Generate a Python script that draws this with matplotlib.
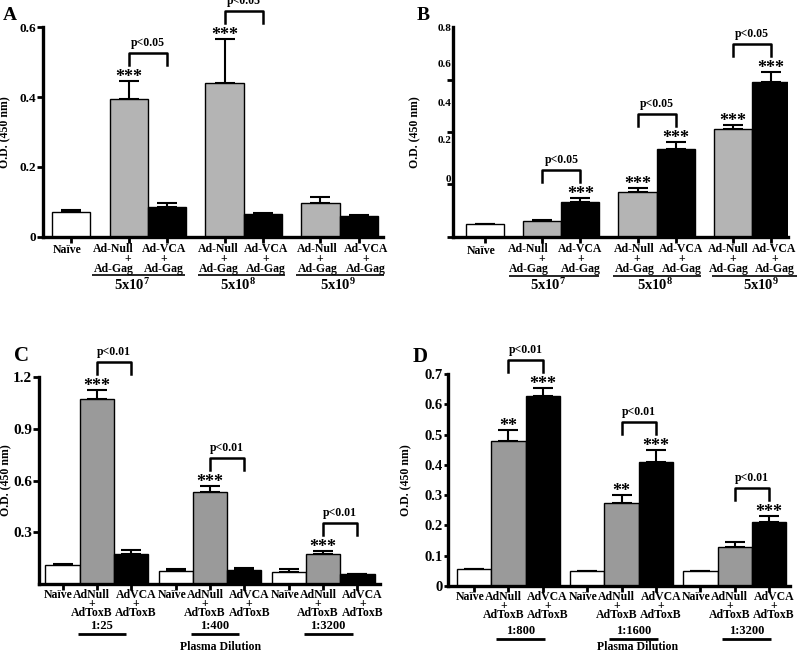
import matplotlib
matplotlib.use("Agg")
import matplotlib.pyplot as plt
import matplotlib.transforms as mtransforms

plt.rcParams["font.family"] = "Liberation Serif"
plt.rcParams["font.weight"] = "bold"
plt.rcParams["mathtext.fontset"] = "custom"
plt.rcParams["mathtext.rm"] = "Liberation Serif:bold"
plt.rcParams["mathtext.it"] = "Liberation Serif:bold"
plt.rcParams["mathtext.bf"] = "Liberation Serif:bold"

# ---- panel A : anti-Gag, by dose ----
a_naive = [0.072]
a_naive_err = [0.005]
a_null = [0.396, 0.440, 0.098]
a_null_err = [0.050, 0.126, 0.017]
a_vca = [0.085, 0.064, 0.060]
a_vca_err = [0.011, 0.003, 0.002]
a_null_sig = ["***", "***", ""]
a_vca_sig = ["", "", ""]
a_pvals = ["p<0.05", "p<0.05", ""]
a_yticks = [0, 0.2, 0.4, 0.6]
a_yticklabels = ["0", "0.2", "0.4", "0.6"]

# ---- panel B ----
b_naive = [0.047]
b_naive_err = [0.002]
b_null = [0.061, 0.170, 0.410]
b_null_err = [0.004, 0.016, 0.016]
b_vca = [0.134, 0.337, 0.593]
b_vca_err = [0.016, 0.025, 0.037]
b_null_sig = ["", "***", "***"]
b_vca_sig = ["***", "***", "***"]
b_pvals = ["p<0.05", "p<0.05", "p<0.05"]
b_yticks = [0, 0.2, 0.4, 0.6, 0.8]
# the printed labels sit off their tick marks in the original figure
b_label_at = [0.221, 0.371, 0.515, 0.663, 0.8]
b_yticklabels = ["0", "0.2", "0.4", "0.6", "0.8"]

doses = ["5x10$^7$", "5x10$^8$", "5x10$^9$"]

# ---- panel C : anti-ToxB, by plasma dilution ----
c_naive = [0.110, 0.073, 0.068]
c_naive_err = [0.008, 0.012, 0.017]
c_null = [1.071, 0.531, 0.174]
c_null_err = [0.052, 0.036, 0.019]
c_vca = [0.172, 0.081, 0.056]
c_vca_err = [0.025, 0.012, 0.004]
c_null_sig = ["***", "***", "***"]
c_vca_sig = ["", "", ""]
c_pvals = ["p<0.01", "p<0.01", "p<0.01"]
c_dilutions = ["1:25", "1:400", "1:3200"]
c_yticks = [0.3, 0.6, 0.9, 1.2]
c_yticklabels = ["0.3", "0.6", "0.9", "1.2"]

# ---- panel D ----
d_naive = [0.055, 0.049, 0.049]
d_naive_err = [0.002, 0.001, 0.001]
d_null = [0.478, 0.275, 0.130]
d_null_err = [0.038, 0.025, 0.015]
d_vca = [0.626, 0.410, 0.212]
d_vca_err = [0.028, 0.038, 0.018]
d_null_sig = ["**", "**", ""]
d_vca_sig = ["***", "***", "***"]
d_pvals = ["p<0.01", "p<0.01", "p<0.01"]
d_dilutions = ["1:800", "1:1600", "1:3200"]
d_yticks = [0, 0.1, 0.2, 0.3, 0.4, 0.5, 0.6, 0.7]
d_yticklabels = ["0", "0.1", "0.2", "0.3", "0.4", "0.5", "0.6", "0.7"]

GREY_AB = "#b4b4b4"
GREY_CD = "#9a9a9a"

fig = plt.figure(figsize=(8, 6.54), dpi=100)


def px(ax, n):
    # n pixels expressed in y data units
    y0, y1 = ax.get_ylim()
    return n * (y1 - y0) / ax.bbox.height


def put(ax, x, dy, s, size, dx=0, ls=1.2):
    tr = mtransforms.offset_copy(ax.get_xaxis_transform(), fig=fig, x=dx, y=-dy, units="dots")
    ax.text(x, 0, s, transform=tr, ha="center", va="center", fontsize=size,
            fontweight="bold", clip_on=False, linespacing=ls, multialignment="center")


def underline(ax, x0, x1, dy, lw):
    tr = mtransforms.offset_copy(ax.get_xaxis_transform(), fig=fig, y=-dy, units="dots")
    ax.plot([x0, x1], [0, 0], transform=tr, color="black", lw=lw, clip_on=False,
            solid_capstyle="butt")


def plus_line(shift_px, size):
    # pad the "+" with spaces so it sits shift_px right of the label centre
    space = 0.25 * size * 100 / 72
    n = max(0, round(2 * shift_px / space))
    return " " * n + "+"


def setup(ax, xlim, ylim, yticks, ylabels, tsize, tlen):
    ax.set_xlim(*xlim)
    ax.set_ylim(*ylim)
    for s in ["top", "right"]:
        ax.spines[s].set_visible(False)
    for s in ["left", "bottom"]:
        ax.spines[s].set_linewidth(2.4)
    ax.set_yticks(yticks, ylabels)
    ax.tick_params(axis="y", length=tlen, width=2, pad=1, labelsize=tsize)
    ax.tick_params(axis="x", length=4, width=2, direction="out")
    ax.set_ylabel("O.D. (450 nm)", fontsize=8.5, fontweight="bold")


def bars(ax, x, h, err, color):
    ax.bar(x, h, width=1.0, color=color, edgecolor="black", linewidth=1, zorder=2)
    ax.errorbar(x, h, yerr=[[0] * len(h), err], fmt="none", ecolor="black",
                elinewidth=1.5, capsize=7, capthick=1.5, zorder=1)


def stars(ax, x, h, err, sig):
    for xi, hi, ei, si in zip(x, h, err, sig):
        if si:
            ax.annotate(si, (xi, hi + ei), xytext=(0, -1), textcoords="offset pixels",
                        ha="center", va="baseline", fontsize=13, fontweight="bold",
                        annotation_clip=False)


def brackets(ax, x_null, x_vca, null, null_err, vca, vca_err, pvals):
    for i, p in enumerate(pvals):
        if not p:
            continue
        base = max(null[i] + null_err[i], vca[i] + vca_err[i])
        leg = base + px(ax, 16)
        top = base + px(ax, 28)
        ax.plot([x_null[i], x_null[i], x_vca[i], x_vca[i]], [leg, top, top, leg],
                color="black", lw=1.8, clip_on=False)
        ax.text((x_null[i] + x_vca[i]) / 2, top + px(ax, 10), p, ha="center", va="center",
                fontsize=8.5, fontweight="bold", clip_on=False)


# ================= A and B =================
pos_naive_ab = [0]
pos_null_ab = [1.5, 4, 6.5]
pos_vca_ab = [x + 1 for x in pos_null_ab]

axA = fig.add_axes([0.054, 0.638, 0.425, 0.320])
axB = fig.add_axes([0.566, 0.638, 0.419, 0.320])

setup(axA, (-0.73, 8.14), (0, 0.6), a_yticks, a_yticklabels, 9.5, 4)
setup(axB, (-0.86, 7.96), (0, 0.8), b_label_at, b_yticklabels, 8, 0)
axB.set_yticks(b_yticks, minor=True)
axB.tick_params(axis="y", which="minor", length=4, width=2)
axA.yaxis.set_label_coords(-0.095, 0.5)
axB.yaxis.set_label_coords(-0.093, 0.5)

# layout per panel: rows (px below axis: first line, "+", underline, dose),
# label nudges (px) per group, underline extents and dose shift (x units)
layout_ab = {
    "A": dict(dys=[13, 22, 38, 48], null_dx=[-15, -6, -3],
              vca_dx=[-3, 3, 7], ul_left=[-0.96, -0.68, -0.63], ul_right=[0.47, 0.58, 0.65],
              dose_shift=[0.08, 0.36, 0.46]),
    "B": dict(dys=[14, 22, 39, 48], null_dx=[-14, -3, -4],
              vca_dx=[0, 6, 4], ul_left=[-0.88, -0.64, -0.55], ul_right=[0.49, 0.68, 0.70],
              dose_shift=[0.15, 0.47, 0.74]),
}

panels_ab = [
    (axA, "A", a_naive, a_naive_err, a_null, a_null_err, a_vca, a_vca_err,
     a_null_sig, a_vca_sig, a_pvals),
    (axB, "B", b_naive, b_naive_err, b_null, b_null_err, b_vca, b_vca_err,
     b_null_sig, b_vca_sig, b_pvals),
]
for (ax, key, nv, nve, nl, nle, vc, vce, nsig, vsig, pv) in panels_ab:
    L = layout_ab[key]
    dys = L["dys"]
    bars(ax, pos_naive_ab, nv, nve, "white")
    bars(ax, pos_null_ab, nl, nle, GREY_AB)
    bars(ax, pos_vca_ab, vc, vce, "black")
    stars(ax, pos_null_ab, nl, nle, nsig)
    stars(ax, pos_vca_ab, vc, vce, vsig)
    brackets(ax, pos_null_ab, pos_vca_ab, nl, nle, vc, vce, pv)
    ax.set_xticks(pos_naive_ab + pos_null_ab + pos_vca_ab, [""] * 7)
    put(ax, pos_naive_ab[0], dys[0], "Naïve", 8.5, dx=-4)
    for i in range(3):
        ndx = L["null_dx"][i]
        put(ax, pos_null_ab[i], dys[1], "Ad-Null\n" + plus_line(-ndx, 8.5) + "\nAd-Gag",
            8.5, dx=ndx, ls=0.8)
        put(ax, pos_vca_ab[i], dys[1], "Ad-VCA\n+\nAd-Gag", 8.5, dx=L["vca_dx"][i], ls=0.8)
        underline(ax, pos_null_ab[i] + L["ul_left"][i], pos_vca_ab[i] + L["ul_right"][i],
                  dys[2], 1.2)
        put(ax, pos_null_ab[i] + L["dose_shift"][i], dys[3], doses[i], 10.5)

# ================= C and D =================
pos_naive_cd = [0, 3.3, 6.6]
pos_null_cd = [x + 1 for x in pos_naive_cd]
pos_vca_cd = [x + 2 for x in pos_naive_cd]

axC = fig.add_axes([0.049, 0.107, 0.426, 0.3165])
axD = fig.add_axes([0.560, 0.104, 0.4275, 0.324])
setup(axC, (-0.68, 9.26), (0, 1.2), c_yticks, c_yticklabels, 11, 4)
setup(axD, (-0.76, 9.21), (0, 0.7), d_yticks, d_yticklabels, 10.5, 3)
axC.yaxis.set_label_coords(-0.08, 0.5)
axD.yaxis.set_label_coords(-0.105, 0.5)

# rows: first line, "+" line, dilution, underline, "Plasma Dilution"
panels_cd = [
    (axC, c_naive, c_naive_err, c_null, c_null_err, c_vca, c_vca_err,
     c_null_sig, c_vca_sig, c_pvals, c_dilutions, [11, 20, 42, 50, 63], 0.15, 0.3),
    (axD, d_naive, d_naive_err, d_null, d_null_err, d_vca, d_vca_err,
     d_null_sig, d_vca_sig, d_pvals, d_dilutions, [11, 20, 45, 53, 61], 0.35, 0.48),
]
for (ax, nv, nve, nl, nle, vc, vce, nsig, vsig, pv, dil, dys, shift, pshift) in panels_cd:
    bars(ax, pos_naive_cd, nv, nve, "white")
    bars(ax, pos_null_cd, nl, nle, GREY_CD)
    bars(ax, pos_vca_cd, vc, vce, "black")
    stars(ax, pos_null_cd, nl, nle, nsig)
    stars(ax, pos_vca_cd, vc, vce, vsig)
    brackets(ax, pos_null_cd, pos_vca_cd, nl, nle, vc, vce, pv)
    ax.set_xticks(pos_naive_cd + pos_null_cd + pos_vca_cd, [""] * 9)
    for i in range(3):
        put(ax, pos_naive_cd[i], dys[0], "Naïve", 8.5, dx=-4)
        put(ax, pos_null_cd[i], dys[1], "AdNull\n+\nAdToxB", 8.5, dx=-5, ls=0.7)
        put(ax, pos_vca_cd[i], dys[1], "AdVCA\n+\nAdToxB", 8.5, dx=5, ls=0.7)
        put(ax, pos_null_cd[i] + shift, dys[2], dil[i], 9)
        underline(ax, pos_null_cd[i] + shift - 0.71, pos_null_cd[i] + shift + 0.71, dys[3], 2)
    put(ax, pos_null_cd[1] + pshift, dys[4], "Plasma Dilution", 8.5)

fig.text(0.004, 0.977, "A", fontsize=14, fontweight="bold", va="center")
fig.text(0.521, 0.977, "B", fontsize=14, fontweight="bold", va="center")
fig.text(0.017, 0.456, "C", fontsize=15, fontweight="bold", va="center")
fig.text(0.516, 0.454, "D", fontsize=15, fontweight="bold", va="center")

fig.savefig("out.png", dpi=100)
